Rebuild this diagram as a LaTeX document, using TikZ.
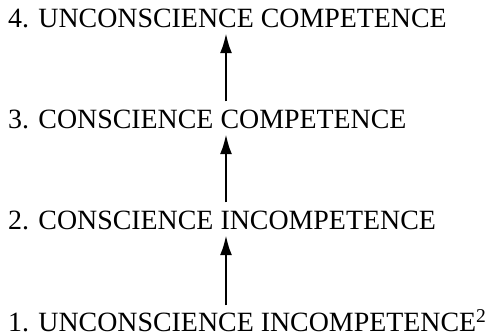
\documentclass[tikz,border=0pt]{standalone}
\usepackage{fontspec}
\setmainfont{Liberation Serif}
\usepackage{tikz}
\usetikzlibrary{arrows.meta,positioning,calc}

\begin{document}
\begin{tikzpicture}[
    >={Latex[length=20bp,width=12bp]},
    font=\rmfamily\fontsize{28}{32}\selectfont,
    stage/.style={anchor=base west, inner sep=5bp, text height=18.5bp, text depth=0pt, text=black},
    climb/.style={->, line width=2.4bp, draw=black, shorten <=4bp}
]

% Frame
\useasboundingbox (0,0) rectangle (487bp,336bp);

% Stages
\node[stage, inner ysep=4bp] (stage1) at (3bp,5bp) {1. UNCONSCIENCE INCOMPETENCE\textsuperscript{2}};
\node[stage] (stage2) at (3bp,106bp) {2. CONSCIENCE INCOMPETENCE};
\node[stage] (stage3) at (3bp,207bp) {3. CONSCIENCE COMPETENCE};
\node[stage] (stage4) at (3bp,308bp) {4. UNCONSCIENCE COMPETENCE};

% Arrows
\coordinate (spine) at (226bp,0);
\draw[climb, shorten <=3bp] (stage1.north -| spine) -- (stage2.south -| spine);
\draw[climb] (stage2.north -| spine) -- (stage3.south -| spine);
\draw[climb] (stage3.north -| spine) -- (stage4.south -| spine);

\end{tikzpicture}
\end{document}
